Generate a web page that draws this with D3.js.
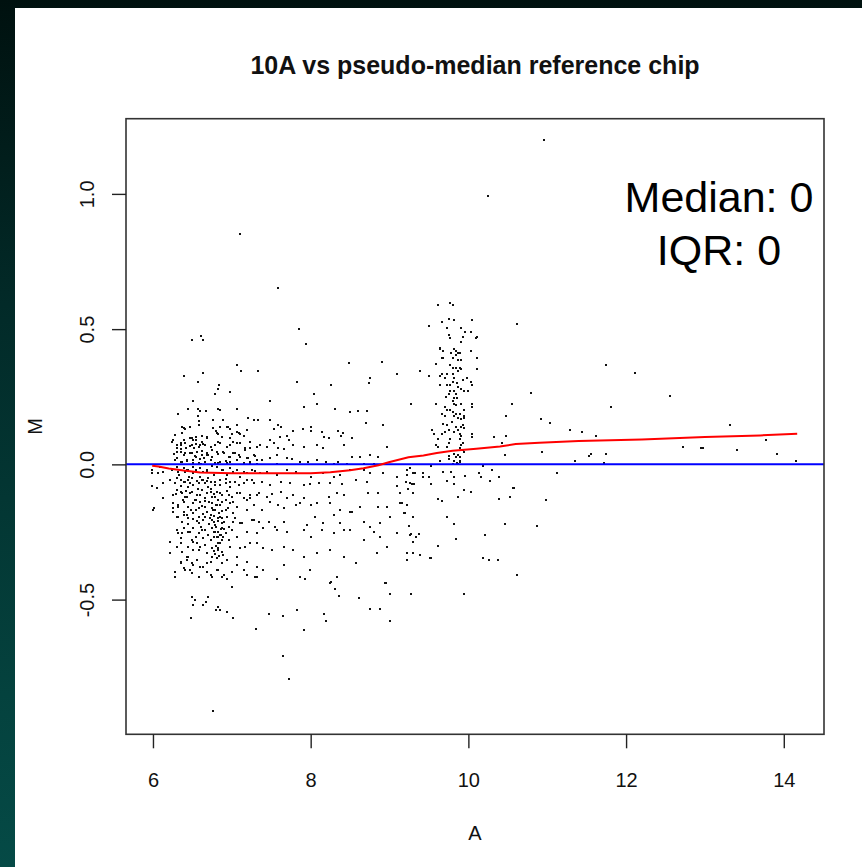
<!DOCTYPE html>
<html>
<head>
<meta charset="utf-8">
<script src="https://cdn.jsdelivr.net/npm/d3@7"></script>
<style>
  html, body { margin: 0; padding: 0; }
  body { width: 862px; height: 867px; overflow: hidden; }
  svg { display: block; }
  text { font-family: "Liberation Sans", Arial, Helvetica, sans-serif; }
</style>
</head>
<body>
<svg id="chart" width="862" height="867"></svg>
<script>
// ---------------- DATA ----------------
const chartTitle = "10A vs pseudo-median reference chip";
const xLabel = "A";
const yLabel = "M";
const statLines = ["Median: 0", "IQR: 0"];
const xTicks = [6, 8, 10, 12, 14];
const yTicks = [-0.5, 0.0, 0.5, 1.0];
const yTickLabels = ["-0.5", "0.0", "0.5", "1.0"];
const xDomain = [5.658, 14.51];
const yDomain = [-0.998, 1.278];
const referenceM = 0;

// loess fit (A, M)
const loessA = [5.99, 6.07, 6.20, 6.39, 6.60, 7.00, 7.50, 8.00, 8.25, 8.50, 8.67, 8.86, 8.99, 9.24, 9.43, 9.60, 9.80, 10.10, 10.40, 10.60, 10.90, 11.40, 12.20, 13.00, 13.70, 14.17];
const loessM = [-0.005, -0.008, -0.015, -0.023, -0.030, -0.033, -0.033, -0.033, -0.029, -0.022, -0.014, -0.003, 0.008, 0.026, 0.033, 0.042, 0.050, 0.058, 0.066, 0.075, 0.080, 0.086, 0.092, 0.101, 0.107, 0.113];

// scatter points [A, M]
const spreadPoints = [
[6.49,0.46],[6.61,0.474],[6.64,0.46],[7.94,0.445],
[7.06,0.366],[7.12,0.344],[7.33,0.344],[6.64,0.339],[6.39,0.326],[8.49,0.373],[8.90,0.377],[9.09,0.334],[8.75,0.318],[8.74,0.299],[7.83,0.306],[6.57,0.306],[8.26,0.293],
[6.84,0.293],[6.82,0.277],[6.79,0.262],[6.98,0.267],[8.04,0.26],[6.51,0.234],[7.49,0.234],[8.08,0.225],[7.91,0.212],[6.44,0.206],[6.57,0.206],[6.60,0.199],[6.67,0.199],[6.83,0.204],[6.85,0.201],[7.06,0.206],[8.31,0.204],[8.50,0.193],[8.60,0.198],[8.72,0.199],[6.32,0.185],[6.57,0.179],
[6.76,0.165],[6.89,0.165],[7.21,0.172],[7.28,0.165],[7.33,0.165],[7.49,0.165],[6.58,0.16],[8.70,0.153],[8.92,0.145],[6.37,0.138],[6.40,0.131],[6.94,0.138],[6.98,0.131],[7.07,0.145],[7.58,0.145],[7.63,0.139],[7.54,0.131],[7.77,0.123],[7.90,0.132],[8.01,0.138],[8.01,0.123],[8.15,0.118],[8.35,0.124],[8.39,0.105],[8.41,0.115],[8.53,0.098],[7.09,0.115],[7.15,0.105],[6.80,0.124],[6.82,0.111],[6.62,0.105],[6.55,0.102],[6.51,0.09],[6.39,0.09],[6.26,0.09],[6.69,0.097],[6.49,0.097],[7.00,0.111],[7.49,0.09],[7.70,0.105],[7.73,0.09],[8.17,0.10],[8.23,0.096],[7.61,0.102],
[6.30,0.071],[6.35,0.071],[6.41,0.078],[6.47,0.068],[6.54,0.074],[6.60,0.07],[6.66,0.071],[6.73,0.065],[6.79,0.071],[6.85,0.078],[6.94,0.065],[6.98,0.071],[7.06,0.078],[7.17,0.059],[7.23,0.059],[7.36,0.071],[7.44,0.065],[7.53,0.078],[7.59,0.059],[7.66,0.055],[7.78,0.071],[7.91,0.065],[8.08,0.071],[8.16,0.059],[8.42,0.071],[8.52,0.028],[8.63,0.028],[8.75,0.034],[8.97,0.065],[8.86,0.028],
[6.35,0.047],[6.41,0.041],[6.49,0.041],[6.56,0.047],[6.62,0.034],[6.68,0.043],[6.75,0.053],[6.82,0.038],[6.89,0.047],[6.98,0.028],[7.04,0.041],[7.11,0.028],[7.21,0.022],[7.30,0.031],[7.38,0.016],[7.49,0.022],[7.57,0.034],[7.70,0.022],[7.76,0.02],[7.87,0.01],[7.97,0.01],[8.08,0.016],[8.20,0.01],[8.29,0.001],[8.35,0.01],[8.46,0.001],[8.67,0.001],[8.80,0.001],
[6.30,0.022],[6.37,0.01],[6.43,0.012],[6.51,0.016],[6.58,0.006],[6.65,0.022],[6.73,0.016],[6.79,0.006],[6.85,0.01],[6.94,0.006],[7.15,0.006],[7.23,0.001],[7.32,0.001],[7.57,0.001],
[5.99,-0.033],[6.07,-0.033],[6.13,-0.027],[6.24,-0.021],[6.30,-0.009],[6.39,-0.015],[6.45,-0.021],[6.51,-0.009],[6.60,-0.015],[6.68,-0.021],[6.75,-0.006],[6.81,-0.011],[6.89,-0.021],[6.98,-0.015],[7.06,-0.019],[7.15,-0.027],[7.25,-0.021],[7.36,-0.033],[7.44,-0.027],[7.57,-0.04],[7.70,-0.021],[7.82,-0.027],[8.01,-0.046],[8.16,-0.033],[8.29,-0.046],[8.37,-0.04],[8.50,-0.021],[8.67,-0.019],[8.75,-0.033],[8.92,-0.033],[9.09,-0.046],[9.22,-0.04],[9.30,-0.033],[9.43,-0.046],[9.26,-0.07],
[6.22,-0.058],[6.28,-0.07],[6.35,-0.056],[6.41,-0.064],[6.47,-0.07],[6.56,-0.061],[6.62,-0.056],[6.66,-0.07],[6.73,-0.064],[6.79,-0.077],[6.85,-0.058],[6.92,-0.07],[6.98,-0.064],[7.09,-0.077],[7.19,-0.058],[7.28,-0.07],[7.38,-0.064],[7.49,-0.077],[7.63,-0.064],[7.74,-0.07],[7.91,-0.077],[7.99,-0.073],[8.10,-0.07],[8.25,-0.07],[8.40,-0.073],[8.58,-0.058],[5.99,-0.08],[6.05,-0.089],[8.71,-0.064],
[6.13,-0.126],[6.30,-0.095],[6.37,-0.107],[6.43,-0.12],[6.49,-0.101],[6.56,-0.114],[6.62,-0.095],[6.68,-0.107],[6.75,-0.12],[6.81,-0.101],[6.87,-0.114],[6.94,-0.097],[7.00,-0.12],[7.06,-0.107],[7.15,-0.126],[7.23,-0.114],[7.34,-0.107],[7.44,-0.12],[7.51,-0.11],[7.63,-0.101],[7.70,-0.126],[7.78,-0.114],[7.87,-0.144],[8.08,-0.144],[8.23,-0.12],[8.33,-0.107],[8.42,-0.114],[8.73,-0.107],[8.86,-0.107],[9.09,-0.08],[9.13,-0.144],[9.22,-0.15],[9.30,-0.107],
[6.26,-0.144],[6.32,-0.157],[6.39,-0.138],[6.45,-0.157],[6.51,-0.144],[6.60,-0.138],[6.66,-0.157],[6.75,-0.144],[6.79,-0.169],[6.85,-0.15],[6.92,-0.169],[6.98,-0.144],[7.06,-0.157],[7.19,-0.132],[7.28,-0.15],[7.38,-0.169],[7.49,-0.138],[7.59,-0.15],[7.66,-0.163],[7.82,-0.15],[7.91,-0.126],[8.01,-0.15],[8.25,-0.144],[8.37,-0.169],[8.50,-0.175],[8.63,-0.157],[8.86,-0.157],[8.97,-0.157],
[6.00,-0.169],[6.26,-0.175],[6.32,-0.194],[6.39,-0.187],[6.45,-0.2],[6.51,-0.179],[6.58,-0.194],[6.64,-0.206],[6.73,-0.187],[6.77,-0.212],[6.82,-0.2],[6.87,-0.218],[6.94,-0.194],[7.02,-0.212],[7.13,-0.218],[7.25,-0.206],[7.34,-0.212],[7.47,-0.212],[7.55,-0.231],[7.66,-0.212],[7.95,-0.224],[8.06,-0.194],[8.16,-0.218],[8.29,-0.187],[8.37,-0.218],[8.52,-0.175],[8.67,-0.212],[8.75,-0.231],[8.88,-0.218],[9.01,-0.194],[9.18,-0.181],[9.30,-0.194],
[6.30,-0.243],[6.37,-0.255],[6.45,-0.249],[6.51,-0.237],[6.58,-0.255],[6.66,-0.243],[6.75,-0.237],[6.80,-0.231],[6.83,-0.249],[6.89,-0.268],[7.00,-0.243],[7.32,-0.255],[7.40,-0.237],[7.57,-0.243],[7.70,-0.249],[7.91,-0.243],[8.01,-0.268],[8.14,-0.243],[8.29,-0.255],[8.42,-0.243],[8.50,-0.243],[8.67,-0.28],[8.80,-0.249],[8.88,-0.268],[9.09,-0.255],[9.26,-0.261],
[6.22,-0.286],[6.35,-0.274],[6.49,-0.28],[6.64,-0.274],[6.77,-0.268],[6.85,-0.261],[6.96,-0.28],[6.56,-0.292],
[6.22,-0.327],[6.30,-0.305],[6.37,-0.323],[6.45,-0.341],[6.51,-0.317],[6.60,-0.305],[6.68,-0.329],[6.75,-0.341],[6.83,-0.317],[6.89,-0.335],[6.98,-0.305],[7.06,-0.341],[7.17,-0.305],[7.32,-0.292],[7.40,-0.311],[7.51,-0.317],[7.66,-0.305],[7.78,-0.317],[7.91,-0.341],[8.08,-0.329],[8.25,-0.317],[8.42,-0.341],[8.58,-0.366],[8.84,-0.329],[8.97,-0.305],[9.22,-0.329],[9.30,-0.329],[9.39,-0.335],[9.51,-0.348],
[6.28,-0.415],[6.35,-0.366],[6.39,-0.385],[6.43,-0.354],[6.47,-0.391],[6.51,-0.372],[6.60,-0.378],[6.68,-0.366],[6.73,-0.409],[6.81,-0.391],[6.87,-0.415],[6.94,-0.422],[7.00,-0.452],[7.15,-0.391],[7.30,-0.415],[7.40,-0.391],[7.57,-0.422],[7.66,-0.372],[7.87,-0.415],[7.93,-0.422],[7.99,-0.391],[8.25,-0.44],[8.33,-0.415],[8.94,-0.44],[9.22,-0.354],
[6.49,-0.489],[6.70,-0.489],[8.61,-0.493]
];

const corePoints = [
[6.39,0.133],[6.47,0.139],[6.58,0.145],[6.76,0.133],[6.85,0.139],[6.95,0.139],[7.06,0.121],[7.11,0.112],[6.37,0.115],[6.28,0.108],[6.47,0.096],[6.54,0.09],[6.62,0.084],[6.68,0.102],[6.81,0.115],[6.87,0.102],[6.98,0.096],[7.19,0.127],
[6.24,0.084],[6.35,0.078],[6.30,0.059],[6.49,0.071],[6.58,0.065],[6.64,0.075],[6.73,0.065],[6.83,0.084],[6.94,0.065],[7.02,0.084],[7.11,0.078],[7.23,0.084],[7.32,0.065],
[6.31,0.047],[6.39,0.034],[6.47,0.043],[6.54,0.028],[6.62,0.05],[6.68,0.034],[6.75,0.026],[6.81,0.047],[6.90,0.041],[6.96,0.026],[7.02,0.041],[7.09,0.034],[7.17,0.053],[7.19,0.022],[7.28,0.034],
[6.28,0.016],[6.35,0.01],[6.43,0.016],[6.51,0.006],[6.60,0.018],[6.66,0.01],[6.73,0.016],[6.83,0.006],[6.92,0.014],[6.98,0.01],[7.06,0.016],[7.15,0.006],[7.23,0.01],[7.32,0.016],
[5.99,-0.021],[6.09,-0.011],[6.24,-0.019],[6.32,-0.027],[6.43,-0.021],[6.51,-0.033],[6.60,-0.046],[6.68,-0.027],[6.77,-0.039],[6.87,-0.021],[6.94,-0.039],[7.02,-0.027],[7.11,-0.046],[7.19,-0.033],[7.30,-0.024],
[5.99,-0.08],[6.05,-0.089],[6.13,-0.07],[6.22,-0.058],[6.30,-0.052],[6.39,-0.064],[6.45,-0.058],[6.51,-0.076],[6.58,-0.07],[6.64,-0.058],[6.70,-0.083],[6.79,-0.064],[6.85,-0.076],[6.92,-0.055],[6.98,-0.083],[7.04,-0.064],[7.15,-0.07],[7.25,-0.058],
[6.13,-0.126],[6.26,-0.113],[6.35,-0.101],[6.41,-0.12],[6.47,-0.107],[6.54,-0.132],[6.60,-0.113],[6.66,-0.126],[6.73,-0.101],[6.79,-0.12],[6.85,-0.107],[6.92,-0.132],[6.97,-0.113],[7.02,-0.138],[7.11,-0.107],[7.23,-0.126],[7.32,-0.113],
[6.01,-0.163],[6.26,-0.163],[6.32,-0.15],[6.39,-0.175],[6.45,-0.157],[6.54,-0.169],[6.62,-0.154],[6.68,-0.175],[6.75,-0.163],[6.81,-0.15],[6.87,-0.171],[6.95,-0.163],[7.01,-0.179],[7.06,-0.157],[7.19,-0.169],
[6.30,-0.193],[6.37,-0.212],[6.43,-0.187],[6.51,-0.203],[6.58,-0.218],[6.66,-0.196],[6.75,-0.206],[6.79,-0.224],[6.85,-0.193],[6.90,-0.212],[6.96,-0.23],[7.04,-0.2],[7.11,-0.218],[7.28,-0.206],
[6.32,-0.255],[6.39,-0.237],[6.47,-0.249],[6.54,-0.267],[6.62,-0.243],[6.70,-0.261],[6.79,-0.249],[6.83,-0.267],[6.87,-0.237],[6.92,-0.255],[7.06,-0.267],[7.19,-0.249],[7.32,-0.255],
[6.22,-0.329],[6.35,-0.292],[6.45,-0.304],[6.51,-0.286],[6.58,-0.317],[6.66,-0.298],[6.75,-0.311],[6.83,-0.292],[6.87,-0.323],[6.98,-0.304],[7.11,-0.311],[7.23,-0.292],
[6.35,-0.36],[6.43,-0.341],[6.49,-0.366],[6.56,-0.354],[6.64,-0.378],[6.73,-0.36],[6.81,-0.347],[6.87,-0.366],[6.94,-0.354],[7.06,-0.372],[7.19,-0.36],[7.32,-0.378],
[6.28,-0.397],[6.41,-0.39],[6.49,-0.403],[6.58,-0.415],[6.68,-0.397],[6.75,-0.415],[6.83,-0.39],[6.90,-0.409],[7.00,-0.397],[7.19,-0.409],[7.32,-0.415],
[6.80,-0.15],[6.84,-0.18],[6.82,-0.21],[6.86,-0.24],[6.81,-0.27],[6.85,-0.29],[6.83,-0.31],[6.79,-0.33],[6.88,-0.2],[6.86,-0.26],[6.80,-0.23],[6.84,-0.34],[6.78,-0.19],[6.82,-0.13],
[6.40,-0.03],[6.46,-0.045],[6.55,-0.02],[6.36,0.055],[6.44,-0.085],[6.57,-0.09],[6.70,-0.05],[6.52,0.06],[6.66,-0.135],[6.48,-0.17],[6.63,-0.185],[6.71,-0.22],
[6.63,-0.03],[6.69,-0.06],[6.74,-0.09],[6.77,-0.11],[6.71,-0.14],[6.76,-0.17],[6.72,-0.2],[6.78,-0.25],[6.74,-0.28],[6.80,-0.3],[6.77,-0.32],[6.88,-0.28],[6.90,-0.24],[6.87,-0.14],[6.33,-0.04],[6.36,-0.08],[6.42,-0.1],[6.50,-0.05],[6.53,-0.13],[6.58,-0.16],[6.61,-0.23],[6.56,-0.21],[6.45,-0.22],[6.38,-0.13],[6.29,-0.11],[6.27,0.04],[6.42,0.06],[6.53,0.03],[6.61,0.0],[6.70,0.035]
];

const clusterPoints = [
[9.61,0.591],[9.77,0.597],[9.80,0.591],[9.66,0.525],[9.75,0.538],[9.82,0.532],[10.05,0.532],[9.50,0.511],[9.73,0.505],[9.91,0.505],[9.96,0.491],[10.03,0.491],[9.75,0.478],[9.77,0.466],[9.93,0.472],[10.11,0.472],[10.10,0.466],[9.91,0.452],
[9.64,0.432],[9.64,0.426],[9.68,0.419],[9.82,0.425],[9.84,0.419],[9.87,0.413],[9.84,0.405],[9.89,0.413],[10.03,0.419],[9.59,0.372],[9.66,0.392],[9.68,0.392],[9.80,0.393],[9.87,0.385],[9.91,0.385],[10.11,0.392],[10.11,0.352],
[9.77,0.366],[9.80,0.358],[9.84,0.358],[9.89,0.358],[9.91,0.352],[9.87,0.346],[9.80,0.333],[9.73,0.333],[9.66,0.333],[9.64,0.325],[9.70,0.319],[9.82,0.319],[9.93,0.313],[9.98,0.319],[10.03,0.305],[9.80,0.305],[9.77,0.292],[9.64,0.292],[9.73,0.292],[9.87,0.286],[9.91,0.28],[9.82,0.272],[9.77,0.272],[9.75,0.259],[9.84,0.259],[9.95,0.272],[10.00,0.272],[10.05,0.292],
[9.82,0.246],[9.80,0.233],[9.82,0.225],[9.84,0.219],[9.91,0.225],[10.05,0.225],[10.05,0.213],[9.70,0.213],[9.66,0.186],[9.73,0.2],[9.77,0.2],[9.80,0.192],[9.84,0.186],[9.82,0.18],[9.89,0.186],[9.95,0.18],[9.95,0.172],[9.87,0.172],[9.91,0.166],[9.70,0.179],
[9.68,0.151],[9.73,0.145],[9.84,0.139],[9.91,0.139],[9.93,0.145],[9.95,0.133],[9.75,0.126],[9.70,0.119],[9.87,0.126],[9.82,0.119],[9.89,0.112],[9.91,0.106],[10.05,0.112],[10.05,0.102],[9.54,0.126],[9.57,0.112],[9.66,0.112],[9.61,0.092],[9.77,0.092],[9.89,0.092],
[9.91,0.073],[9.93,0.079],[9.59,0.071],[9.61,0.065],[9.73,0.065],[9.75,0.079],[9.89,0.059],[9.93,0.053],[9.95,0.045],[9.82,0.039],[9.87,0.033],[9.89,0.026],[9.84,0.026],[9.75,0.032],[9.75,0.02],[9.82,0.012],[9.89,0.012],[9.64,0.012],
[9.85,0.005],[9.80,0.003],[9.90,0.008],[9.87,0.0],[9.86,0.245],[9.79,0.155],[9.86,0.30],[9.71,0.25],[9.94,0.20],[9.78,0.41],
[9.39,0.346],[9.27,0.225],[9.50,0.325],[9.59,0.225]
];

const rightPoints = [
[11.74,0.366],[12.11,0.339],[11.81,0.212],[12.56,0.251],[13.32,0.145],[13.77,0.091],[13.91,0.039],[14.16,0.011],[12.72,0.066],[12.95,0.06],[12.98,0.06],[13.41,0.052],[11.62,0.106],[11.44,0.118],[11.29,0.126],[11.03,0.152],[10.92,0.166],[10.80,0.265],[10.55,0.225],[10.48,0.179],[10.48,0.106],[10.32,0.10],[10.46,0.033],[10.43,0.078],[10.94,0.045],[11.35,0.012],[11.53,0.032],[11.56,0.038],[11.74,0.038],[11.72,0.005],
[11.12,-0.033],[10.98,-0.133],[10.87,-0.228],[10.58,-0.089],[10.53,-0.12],[10.46,-0.221],[10.39,-0.128],
[9.22,-0.019],[9.26,-0.015],[9.32,-0.033],[9.31,-0.073],[9.29,-0.073],[9.21,-0.067],[9.24,-0.092],[9.20,-0.181],[9.13,-0.107],[9.16,-0.142],[9.25,-0.228],[9.43,-0.031],[9.52,-0.007],[9.53,-0.073],[9.50,-0.047],[9.68,-0.029],[9.78,-0.029],[9.73,-0.061],[9.82,-0.047],[9.82,-0.074],[9.96,-0.042],[9.95,-0.095],[10.03,-0.101],[9.87,-0.121],[9.61,-0.128],[9.66,-0.134],[9.73,-0.195],[9.82,-0.222],
[10.18,-0.006],[10.14,-0.033],[10.16,-0.048],[10.28,-0.060],[10.30,-0.020],[10.39,-0.047],[10.57,-0.089],
[10.21,-0.261],[10.19,-0.348],[10.26,-0.354],[10.37,-0.354],[10.62,-0.408],
[9.61,-0.30],[9.84,-0.275],[9.94,-0.481],[9.52,-0.348],[9.37,-0.259],[9.34,-0.268],[9.30,-0.288],[9.27,-0.259],[9.25,-0.228],[9.27,-0.481],[9.00,-0.481],[8.95,-0.44],[8.36,-0.488],[8.31,-0.461],[8.26,-0.434]
];

const lowPoints = [
[6.48,-0.567],[6.51,-0.521],[6.53,-0.50],[6.64,-0.521],[6.67,-0.508],[6.80,-0.54],[6.85,-0.54],[6.82,-0.528],[6.94,-0.547],[7.01,-0.567],[7.31,-0.608],[7.47,-0.555],[7.65,-0.561],[7.65,-0.708],[7.72,-0.795],[7.83,-0.54],[7.92,-0.614],[8.17,-0.555],[8.20,-0.58],[8.75,-0.534],[8.88,-0.534],[9.00,-0.58],[6.76,-0.913]
];

const outlierPoints = [
[7.10,0.851],[7.58,0.652],[7.85,0.499],[10.25,0.991],[10.96,1.198],[10.62,0.518]
];

// ---------------- DRAW ----------------
const W = 862, H = 867;
const plot = { left: 126, right: 824, top: 118.7, bottom: 734.3 };
const svg = d3.select("#chart");

const defs = svg.append("defs");
const grad = defs.append("linearGradient").attr("id", "bg").attr("x1", 0).attr("y1", 0).attr("x2", 0).attr("y2", 1);
grad.append("stop").attr("offset", "0%").attr("stop-color", "#00110f");
grad.append("stop").attr("offset", "35%").attr("stop-color", "#022a28");
grad.append("stop").attr("offset", "80%").attr("stop-color", "#04423e");
grad.append("stop").attr("offset", "100%").attr("stop-color", "#054a46");
svg.append("rect").attr("x", 0).attr("y", 0).attr("width", W).attr("height", H).attr("fill", "url(#bg)");
svg.append("rect").attr("x", 15).attr("y", 8).attr("width", W - 15).attr("height", H - 8).attr("fill", "#ffffff");

const x = d3.scaleLinear().domain(xDomain).range([plot.left, plot.right]);
const y = d3.scaleLinear().domain(yDomain).range([plot.bottom, plot.top]);

// points
const allPoints = [].concat(spreadPoints, corePoints, clusterPoints, rightPoints, lowPoints, outlierPoints);
svg.append("g").selectAll("rect").data(allPoints).join("rect")
  .attr("x", d => Math.round(x(d[0])) - 1)
  .attr("y", d => Math.round(y(d[1])) - 1)
  .attr("width", 2).attr("height", 2)
  .attr("fill", "#111")
  .attr("shape-rendering", "crispEdges");

// reference line M = 0
svg.append("line")
  .attr("x1", plot.left).attr("x2", plot.right)
  .attr("y1", y(referenceM)).attr("y2", y(referenceM))
  .attr("stroke", "#0000ff").attr("stroke-width", 2);

// loess line
const loessData = loessA.map((a, i) => [a, loessM[i]]);
svg.append("path")
  .datum(loessData)
  .attr("d", d3.line().x(d => x(d[0])).y(d => y(d[1])))
  .attr("fill", "none").attr("stroke", "#ff0000").attr("stroke-width", 2);

// box
svg.append("rect")
  .attr("x", plot.left).attr("y", plot.top)
  .attr("width", plot.right - plot.left).attr("height", plot.bottom - plot.top)
  .attr("fill", "none").attr("stroke", "#333").attr("stroke-width", 1.6);

// x axis
const xAxis = d3.axisBottom(x).tickValues(xTicks).tickFormat(d3.format("d")).tickSize(14).tickPadding(25);
const gx = svg.append("g").attr("transform", `translate(0,${plot.bottom})`).call(xAxis);
gx.select(".domain").remove();
gx.selectAll(".tick line").attr("stroke", "#222").attr("stroke-width", 1.4);
gx.selectAll(".tick text").attr("fill", "#111").style("font-size", "20px")
  .style("font-family", "'Liberation Sans', Arial, sans-serif");

// y axis
const yAxis = d3.axisLeft(y).tickValues(yTicks).tickFormat((d, i) => yTickLabels[i]).tickSize(14);
const gy = svg.append("g").attr("transform", `translate(${plot.left},0)`).call(yAxis);
gy.select(".domain").remove();
gy.selectAll(".tick line").attr("stroke", "#222").attr("stroke-width", 1.4);
gy.selectAll(".tick text")
  .attr("x", null).attr("dy", null)
  .attr("text-anchor", "middle")
  .attr("transform", "translate(-32,0) rotate(-90)")
  .attr("fill", "#111").style("font-size", "20px")
  .style("font-family", "'Liberation Sans', Arial, sans-serif");

// title
svg.append("text")
  .attr("x", (plot.left + plot.right) / 2).attr("y", 74)
  .attr("text-anchor", "middle")
  .style("font-size", "25px").style("font-weight", "bold")
  .attr("fill", "#111")
  .text(chartTitle);

// axis labels
svg.append("text")
  .attr("x", (plot.left + plot.right) / 2).attr("y", 840)
  .attr("text-anchor", "middle").style("font-size", "20px").attr("fill", "#111")
  .text(xLabel);
svg.append("text")
  .attr("transform", `translate(42,${(plot.top + plot.bottom) / 2}) rotate(-90)`)
  .attr("text-anchor", "middle").style("font-size", "20px").attr("fill", "#111")
  .text(yLabel);

// stats
svg.selectAll("text.stat").data(statLines).join("text")
  .attr("class", "stat")
  .attr("x", 719).attr("y", (d, i) => 212 + i * 53)
  .attr("text-anchor", "middle")
  .style("font-size", "43px").attr("fill", "#000")
  .text(d => d);
</script>
</body>
</html>
